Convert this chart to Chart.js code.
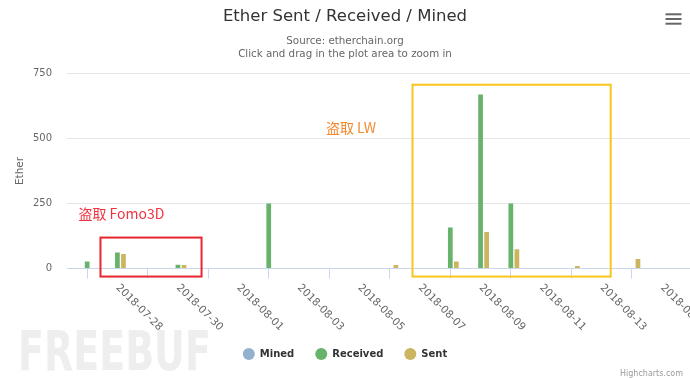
<!DOCTYPE html>
<html>
<head>
<meta charset="utf-8">
<script src="https://cdn.jsdelivr.net/npm/chart.js@4.4.1/dist/chart.umd.min.js"></script>
<style>
  html, body { margin: 0; padding: 0; background: #fff; overflow: hidden; }
</style>
</head>
<body>
<canvas id="chart" width="690" height="378"></canvas>
<script>
// daily values, Ether
const days = [
  '2018-07-27', '2018-07-28', '2018-07-29', '2018-07-30', '2018-07-31',
  '2018-08-01', '2018-08-02', '2018-08-03', '2018-08-04', '2018-08-05',
  '2018-08-06', '2018-08-07', '2018-08-08', '2018-08-09', '2018-08-10',
  '2018-08-11', '2018-08-12', '2018-08-13', '2018-08-14'
];
const mined    = [0, 0, 0, 0, 0, 0, 0, 0, 0, 0, 0, 0, 0, 0, 0, 0, 0, 0, 0];
const received = [27, 62, 0, 14, 0, 0, 250, 0, 0, 0, 0, 0, 158, 669, 250, 0, 0, 0, 0];
const sent     = [0, 56, 0, 13, 0, 0, 0, 0, 0, 0, 13, 0, 27, 140, 74, 0, 10, 0, 37];

const tickLabels = [
  '2018-07-28', '2018-07-30', '2018-08-01', '2018-08-03', '2018-08-05',
  '2018-08-07', '2018-08-09', '2018-08-11', '2018-08-13', '2018-08-15'
];

const DAY0 = Date.parse('2018-07-26');
const toDay = s => (Date.parse(s) - DAY0) / 86400000;

// hand-drawn marks on the screenshot, in axis units (day, Ether)
const boxes = [
  { x0: 1.44, x1: 4.78, y0: -31, y1: 119, color: '#e8262e' },
  { x0: 11.75, x1: 18.3, y0: -31, y1: 707, color: '#f8c51c' }
];
const notes = [
  { x: 0.71, y: 211, text: '盗取 Fomo3D', color: '#ef3340' },
  { x: 8.89, y: 542, text: '盗取 LW', color: '#f5892f' }
];

const series = (values) => days.map((d, i) => ({ x: toDay(d), y: values[i] }));

const sansFont = '"DejaVu Sans", sans-serif';

const xLabels = {
  id: 'xLabels',
  afterDraw(chart) {
    const { ctx } = chart;
    const xs = chart.scales.x;
    ctx.save();
    ctx.fillStyle = '#666';
    ctx.font = '10.5px ' + sansFont;
    ctx.textAlign = 'left';
    ctx.textBaseline = 'middle';
    xs.ticks.forEach(t => {
      const px = xs.getPixelForValue(t.value);
      ctx.save();
      ctx.translate(px, chart.chartArea.bottom + 17.5);
      ctx.rotate(Math.PI / 4);
      ctx.fillText(t.label, 0, 0);
      ctx.restore();
    });
    ctx.restore();
  }
};

const marks = {
  id: 'marks',
  afterDatasetsDraw(chart) {
    const { ctx } = chart;
    const xs = chart.scales.x, ys = chart.scales.y;
    ctx.save();
    boxes.forEach(b => {
      const l = xs.getPixelForValue(b.x0), r = xs.getPixelForValue(b.x1);
      const t = ys.getPixelForValue(b.y1), btm = ys.getPixelForValue(b.y0);
      ctx.strokeStyle = b.color;
      ctx.lineWidth = 2;
      ctx.strokeRect(l, t, r - l, btm - t);
    });
    ctx.font = '14px "Noto Sans CJK SC", sans-serif';
    ctx.textAlign = 'left';
    ctx.textBaseline = 'middle';
    notes.forEach(n => {
      ctx.fillStyle = n.color;
      ctx.fillText(n.text, xs.getPixelForValue(n.x), ys.getPixelForValue(n.y));
    });
    ctx.restore();
  }
};

const decor = {
  id: 'decor',
  beforeDraw(chart) {
    const { ctx } = chart;
    ctx.save();
    ctx.fillStyle = '#eeeeee';
    ctx.font = 'bold 38px ' + sansFont;
    ctx.textBaseline = 'alphabetic';
    ctx.translate(18, 370);
    ctx.scale(1, 1.45);
    ctx.fillText('FREEBUF', 0, 0);
    ctx.restore();
  },
  afterDraw(chart) {
    const { ctx } = chart;
    ctx.save();
    ctx.strokeStyle = '#666';
    ctx.lineWidth = 2;
    [14.3, 19, 23.7].forEach(y => {
      ctx.beginPath();
      ctx.moveTo(665.5, y);
      ctx.lineTo(681.5, y);
      ctx.stroke();
    });
    ctx.fillStyle = '#999';
    ctx.font = '8px ' + sansFont;
    ctx.textAlign = 'right';
    ctx.fillText('Highcharts.com', 683, 374);
    ctx.restore();
  }
};

new Chart(document.getElementById('chart'), {
  type: 'bar',
  data: {
    datasets: [
      { label: 'Mined', data: series(mined), backgroundColor: '#93b1cf' },
      { label: 'Received', data: series(received), backgroundColor: '#68b36b' },
      { label: 'Sent', data: series(sent), backgroundColor: '#cbb55f' }
    ]
  },
  options: {
    responsive: false,
    animation: false,
    layout: { padding: { left: 0, right: 0, top: 0, bottom: 9 } },
    datasets: {
      bar: { categoryPercentage: 0.6, barPercentage: 0.78, borderWidth: 0 }
    },
    scales: {
      x: {
        type: 'linear',
        min: 0.334,
        max: 20.92,
        offset: false,
        grid: { drawOnChartArea: false, drawTicks: true, tickLength: 10, color: '#ccd6eb' },
        border: { color: '#ccd6eb' },
        ticks: {
          display: false,
          callback: v => tickLabels.find(t => toDay(t) === v) || ''
        },
        afterBuildTicks: s => { s.ticks = tickLabels.map(t => ({ value: toDay(t) })); },
        afterFit: s => { s.height = 59.5; }
      },
      y: {
        min: 0,
        max: 750,
        ticks: { stepSize: 250, color: '#666', padding: 15, font: { size: 10, family: sansFont } },
        grid: { color: '#e6e6e6', drawTicks: false },
        border: { display: false },
        title: { display: true, text: 'Ether', color: '#666', padding: { top: 13.5 }, font: { size: 10.5, family: sansFont } },
        afterFit: s => { s.width = 67; }
      }
    },
    plugins: {
      title: {
        display: true,
        text: 'Ether Sent / Received / Mined',
        color: '#333',
        font: { size: 16.5, weight: 'normal', family: sansFont, lineHeight: 1.2 },
        padding: { top: 7, bottom: 0 }
      },
      subtitle: {
        display: true,
        text: ['Source: etherchain.org', 'Click and drag in the plot area to zoom in'],
        color: '#666',
        font: { size: 10.3, family: sansFont, lineHeight: 1.26 },
        padding: { top: 7.8, bottom: 13 }
      },
      legend: {
        position: 'bottom',
        labels: {
          usePointStyle: true,
          pointStyle: 'circle',
          pointStyleWidth: 12,
          boxHeight: 8.5,
          padding: 21,
          color: '#333',
          font: { size: 10, weight: 'bold', family: sansFont }
        }
      },
      tooltip: { enabled: false }
    }
  },
  plugins: [xLabels, marks, decor]
});
</script>
</body>
</html>
